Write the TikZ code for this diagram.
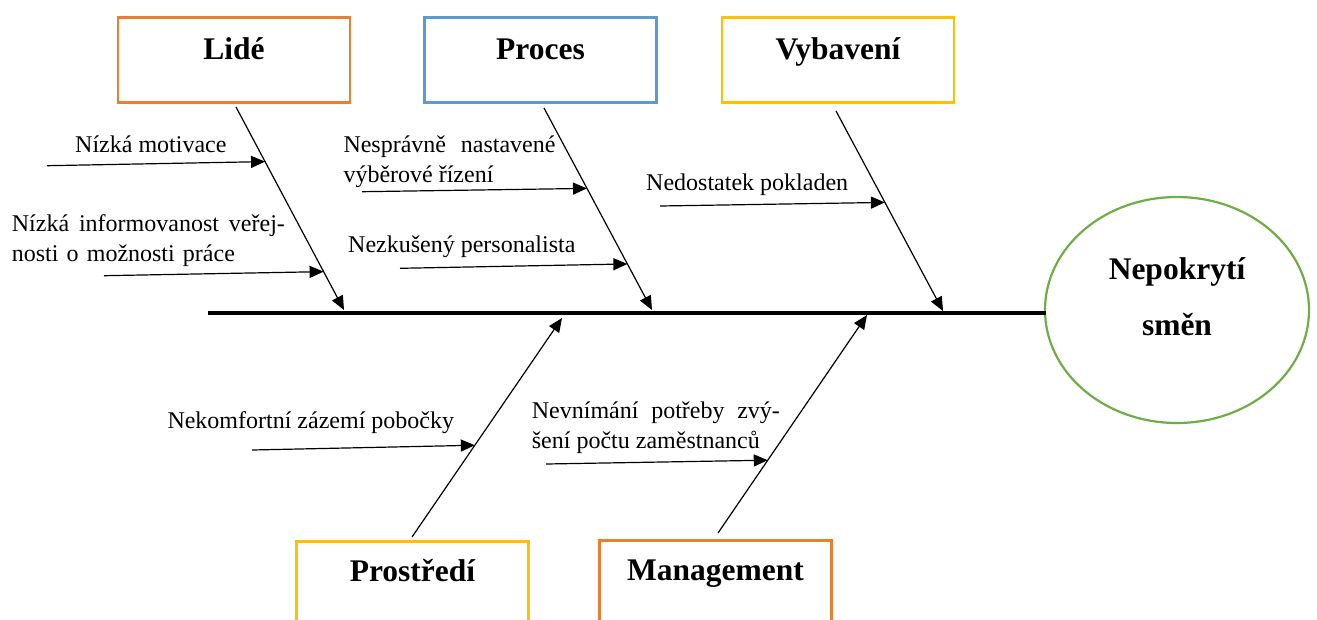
\documentclass[tikz,border=0pt]{standalone}
\usepackage{fontspec}
\setmainfont{Liberation Serif}
\usetikzlibrary{arrows.meta,shapes.geometric,calc}
\definecolor{peopleorange}{HTML}{ED7D31}
\definecolor{processblue}{HTML}{5B9BD5}
\definecolor{equipgold}{HTML}{FFC000}
\definecolor{effectgreen}{HTML}{70AD47}
\begin{document}
\begin{tikzpicture}[x=1pt,y=-1pt,
  catbox/.style={draw, line width=2.5pt, fill=white, inner sep=0pt,
    minimum width=232pt, text height=42pt, text depth=43pt,
    font=\fontsize{31.5}{36}\selectfont\bfseries},
  lowbox/.style={catbox, text height=40pt, text depth=45pt},
  causetext/.style={anchor=base west, inner sep=0pt,
    font=\fontsize{24}{30}\selectfont},
  effecttext/.style={anchor=base, inner sep=0pt,
    font=\fontsize{31.5}{36}\selectfont\bfseries},
  bone/.style={-{Triangle[length=14pt,width=12pt]}, line width=1.2pt},
  spine/.style={line width=4pt}]
\useasboundingbox (0,0) rectangle (1317,619);
\clip (0,0) rectangle (1317,619);

% category boxes
\node[catbox, draw=peopleorange, anchor=north] (lide) at (234,16) {Lidé};
\node[catbox, draw=processblue, anchor=north] (proces) at (540.5,16) {Proces};
\node[catbox, draw=equipgold, anchor=north] (vybaveni) at (838,16) {Vybavení};
\node[lowbox, draw=equipgold, anchor=north] (prostredi) at (412.5,540) {Prostředí};
\node[lowbox, draw=peopleorange, anchor=north] (management) at (715.5,539) {Management};

% effect
\node[ellipse, draw=effectgreen, line width=2.2pt, inner sep=0pt,
  minimum width=264pt, minimum height=226pt] (effect) at (1177,310) {};
\node[effecttext] (effectA) at (1177,279) {Nepokrytí};
\node[effecttext] (effectB) at (1177,335) {směn};

% spine
\coordinate (spineL) at (208,313);
\coordinate (spineR) at (1046,313);
\draw[spine] (spineL) -- (spineR);

% main bones
\coordinate (lideS) at (236,107);   \coordinate (lideT) at (344,310);
\coordinate (procS) at (544,108);   \coordinate (procT) at (652,310);
\coordinate (vybS) at (836,111);    \coordinate (vybT) at (943,311);
\coordinate (prostS) at (412,537);  \coordinate (prostT) at (562,318);
\coordinate (manS) at (718,533);    \coordinate (manT) at (867,315);
\draw[bone] (lideS) -- (lideT);
\draw[bone] (procS) -- (procT);
\draw[bone] (vybS) -- (vybT);
\draw[bone] (prostS) -- (prostT);
\draw[bone] (manS) -- (manT);

% cause arrows
\coordinate (c1S) at (47,165.7);   \coordinate (c1T) at ($(lideS)!0.269!(lideT)$);
\coordinate (c2S) at (104,275.7);  \coordinate (c2T) at ($(lideS)!0.811!(lideT)$);
\coordinate (c3S) at (362,191.7);  \coordinate (c3T) at ($(procS)!0.398!(procT)$);
\coordinate (c4S) at (400,268.3);  \coordinate (c4T) at ($(procS)!0.772!(procT)$);
\coordinate (c5S) at (660,206);    \coordinate (c5T) at ($(vybS)!0.457!(vybT)$);
\coordinate (c6S) at (252,450);    \coordinate (c6T) at ($(prostS)!0.419!(prostT)$);
\coordinate (c7S) at (546,464);    \coordinate (c7T) at ($(manS)!0.334!(manT)$);
\foreach \i in {1,...,7} {\draw[bone] (c\i S) -- (c\i T);}

% cause labels
\node[causetext] (t1) at (75,152) {Nízká motivace};
\node[causetext] (t2a) at (11.7,231) {\makebox[273pt][s]{Nízká informovanost veřej-}};
\node[causetext] (t2b) at (11.7,261.5) {\makebox[223pt][s]{nosti o možnosti práce}};
\node[causetext] (t3a) at (343.3,152) {\makebox[212pt][s]{Nesprávně nastavené}};
\node[causetext] (t3b) at (343.3,182) {výběrové řízení};
\node[causetext] (t4) at (348,252) {Nezkušený personalista};
\node[causetext] (t5) at (646,190) {Nedostatek pokladen};
\node[causetext] (t6) at (167.3,428) {Nekomfortní zázemí pobočky};
\node[causetext] (t7a) at (531.7,418.3) {\makebox[248pt][s]{Nevnímání potřeby zvý-}};
\node[causetext] (t7b) at (531.7,448.3) {šení počtu zaměstnanců};
\end{tikzpicture}
\end{document}
